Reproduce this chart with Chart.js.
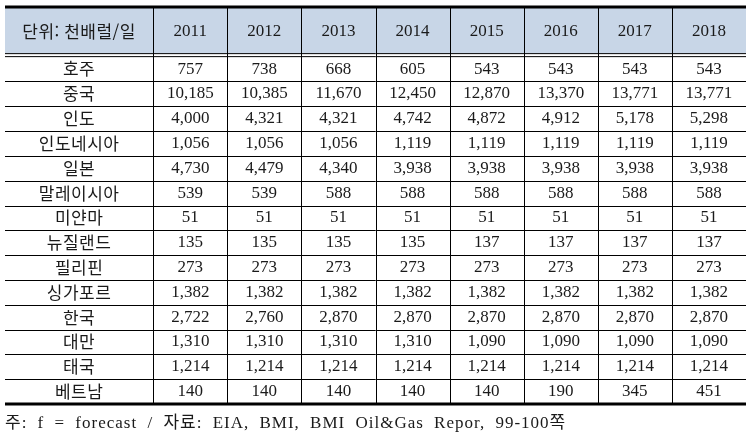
<!DOCTYPE html>
<html lang="ko">
<head>
<meta charset="utf-8">
<script src="https://cdn.jsdelivr.net/npm/chart.js@4.4.1/dist/chart.umd.min.js"></script>
<style>
    html, body { margin: 0; padding: 0; background: #fff; }
    canvas { display: block; }
</style>
</head>
<body>
<canvas id="tbl" width="753" height="437"></canvas>
<script>
// table contents
const unitLabel = '단위: 천배럴/일';
const years = ['2011', '2012', '2013', '2014', '2015', '2016', '2017', '2018'];
const countries = ['호주', '중국', '인도', '인도네시아', '일본', '말레이시아', '미얀마',
    '뉴질랜드', '필리핀', '싱가포르', '한국', '대만', '태국', '베트남'];
const australia = [757, 738, 668, 605, 543, 543, 543, 543];
const china = [10185, 10385, 11670, 12450, 12870, 13370, 13771, 13771];
const india = [4000, 4321, 4321, 4742, 4872, 4912, 5178, 5298];
const indonesia = [1056, 1056, 1056, 1119, 1119, 1119, 1119, 1119];
const japan = [4730, 4479, 4340, 3938, 3938, 3938, 3938, 3938];
const malaysia = [539, 539, 588, 588, 588, 588, 588, 588];
const myanmar = [51, 51, 51, 51, 51, 51, 51, 51];
const newZealand = [135, 135, 135, 135, 137, 137, 137, 137];
const philippines = [273, 273, 273, 273, 273, 273, 273, 273];
const singapore = [1382, 1382, 1382, 1382, 1382, 1382, 1382, 1382];
const korea = [2722, 2760, 2870, 2870, 2870, 2870, 2870, 2870];
const taiwan = [1310, 1310, 1310, 1310, 1090, 1090, 1090, 1090];
const thailand = [1214, 1214, 1214, 1214, 1214, 1214, 1214, 1214];
const vietnam = [140, 140, 140, 140, 140, 190, 345, 451];
const footnote = '주: f = forecast / 자료: EIA, BMI, BMI Oil&Gas Repor, 99-100쪽';

const rows = [australia, china, india, indonesia, japan, malaysia, myanmar,
    newZealand, philippines, singapore, korea, taiwan, thailand, vietnam];

// layout in scale units: first column is 2 wide, year columns 1 wide; header is 2 tall
const labelCols = 2;
const headRows = 2;
const numFont = '17px "Liberation Serif", "Noto Sans CJK KR", serif';
const korFont = '17px "Noto Sans CJK KR", sans-serif';
const headFill = '#c8d6e7';

const tablePlugin = {
    id: 'table',
    beforeDatasetsDraw(chart) {
        const ctx = chart.ctx;
        const x = chart.scales.x, y = chart.scales.y;
        const xEnd = labelCols + years.length;
        const yEnd = headRows + rows.length;
        const px = v => x.getPixelForValue(v);
        const py = v => y.getPixelForValue(v);

        ctx.save();
        // header background
        ctx.fillStyle = headFill;
        ctx.fillRect(px(0), py(0), px(xEnd) - px(0), py(1.87) - py(0));

        const hLine = (v, w) => {
            ctx.lineWidth = w;
            ctx.beginPath();
            ctx.moveTo(px(0), py(v));
            ctx.lineTo(px(xEnd), py(v));
            ctx.stroke();
        };
        ctx.strokeStyle = '#000';
        // vertical dividers
        ctx.lineWidth = 1;
        for (let c = labelCols; c < xEnd; c++) {
            const xx = Math.round(px(c)) + 0.5;
            ctx.beginPath();
            ctx.moveTo(xx, py(0));
            ctx.lineTo(xx, py(yEnd));
            ctx.stroke();
        }
        // row lines
        for (let r = 1; r < rows.length; r++) {
            const yy = Math.round(py(headRows + r)) + 0.5;
            ctx.lineWidth = 1;
            ctx.beginPath();
            ctx.moveTo(px(0), yy);
            ctx.lineTo(px(xEnd), yy);
            ctx.stroke();
        }
        // double line under the header
        hLine(1.88, 1);
        hLine(2.0, 1);
        // thick top and bottom rules
        hLine(0, 3);
        hLine(yEnd, 3);

        // header text
        ctx.fillStyle = '#1a1a1a';
        ctx.textAlign = 'center';
        ctx.textBaseline = 'middle';
        ctx.font = korFont;
        ctx.letterSpacing = '0.5px';
        ctx.fillText(unitLabel, px(labelCols / 2), py(0.98));
        ctx.letterSpacing = '0px';
        ctx.font = numFont;
        years.forEach((yr, i) => ctx.fillText(yr, px(labelCols + i + 0.5), py(0.98)));

        // body
        rows.forEach((vals, r) => {
            const yy = py(headRows + r + 0.5);
            ctx.font = korFont;
            ctx.letterSpacing = '0.5px';
            ctx.fillText(countries[r], px(labelCols / 2), yy);
            ctx.letterSpacing = '0px';
            ctx.font = numFont;
            vals.forEach((v, i) => ctx.fillText(v.toLocaleString('en-US'), px(labelCols + i + 0.5), yy));
        });

        // footnote
        ctx.textAlign = 'left';
        ctx.font = '17px "Liberation Serif", "Noto Sans CJK KR", serif';
        ctx.letterSpacing = '1px';
        ctx.wordSpacing = '5px';
        ctx.fillText(footnote, px(0), py(yEnd) + 20);
        ctx.restore();
    }
};

new Chart(document.getElementById('tbl'), {
    type: 'scatter',
    data: { datasets: [] },
    options: {
        responsive: false,
        animation: false,
        events: [],
        layout: { padding: { left: 5, right: 7, top: 7, bottom: 33 } },
        plugins: { legend: { display: false }, tooltip: { enabled: false } },
        scales: {
            x: { type: 'linear', min: 0, max: labelCols + years.length, display: false },
            y: { type: 'linear', min: 0, max: headRows + countries.length, reverse: true, display: false }
        }
    },
    plugins: [tablePlugin]
});
</script>
</body>
</html>
